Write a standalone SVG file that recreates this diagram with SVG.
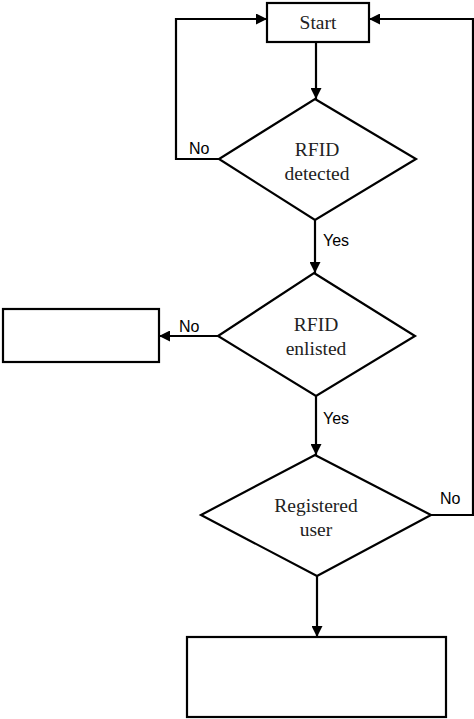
<svg xmlns="http://www.w3.org/2000/svg" width="474" height="719" viewBox="0 0 474 719">
<style>
.s{fill:#fff;stroke:#000;stroke-width:2.2}
.c{fill:none;stroke:#000;stroke-width:2.2}
.t{font-family:"Liberation Serif",serif;font-size:19.5px;fill:#222;text-anchor:middle}
.l{font-family:"Liberation Sans",sans-serif;font-size:16px;fill:#000}
</style>
<defs>
<marker id="a" markerWidth="11" markerHeight="11" refX="11" refY="5.5" orient="auto" markerUnits="userSpaceOnUse">
<path d="M0,0 L11,5.5 L0,11 z" fill="#000"/>
</marker>
</defs>
<rect width="474" height="719" fill="#fff"/>
<g id="connectors">
<path class="c" d="M316,42 V99" marker-end="url(#a)"/>
<path class="c" d="M219,159 H176 V19 H267" marker-end="url(#a)"/>
<path class="c" d="M315,220 V273" marker-end="url(#a)"/>
<path class="c" d="M218,336 H159" marker-end="url(#a)"/>
<path class="c" d="M316,396 V455" marker-end="url(#a)"/>
<path class="c" d="M431,515 H473 V19 H369" marker-end="url(#a)"/>
<path class="c" d="M317,576 V637" marker-end="url(#a)"/>
<text class="l" x="189" y="154">No</text>
<text class="l" x="323" y="246">Yes</text>
<text class="l" x="179" y="332">No</text>
<text class="l" x="323" y="424">Yes</text>
<text class="l" x="440" y="504">No</text>
</g>
<g id="start">
<rect class="s" x="267" y="3" width="102" height="39"/>
<text class="t" x="318" y="29">Start</text>
</g>
<g id="rfid-detected">
<polygon class="s" points="315,99 416,159 315,220 219,159"/>
<text class="t" x="317" y="156">RFID</text>
<text class="t" x="317" y="180">detected</text>
</g>
<g id="rfid-enlisted">
<polygon class="s" points="314,273 415,336 316,396 218,336"/>
<text class="t" x="316" y="331">RFID</text>
<text class="t" x="316" y="355">enlisted</text>
</g>
<g id="left-box">
<rect class="s" x="3" y="309" width="156" height="53"/>
</g>
<g id="registered-user">
<polygon class="s" points="315,455 431,515 317,576 201,515"/>
<text class="t" x="316" y="512">Registered</text>
<text class="t" x="316" y="536">user</text>
</g>
<g id="bottom-box">
<rect class="s" x="187" y="637" width="259" height="80"/>
</g>
</svg>
